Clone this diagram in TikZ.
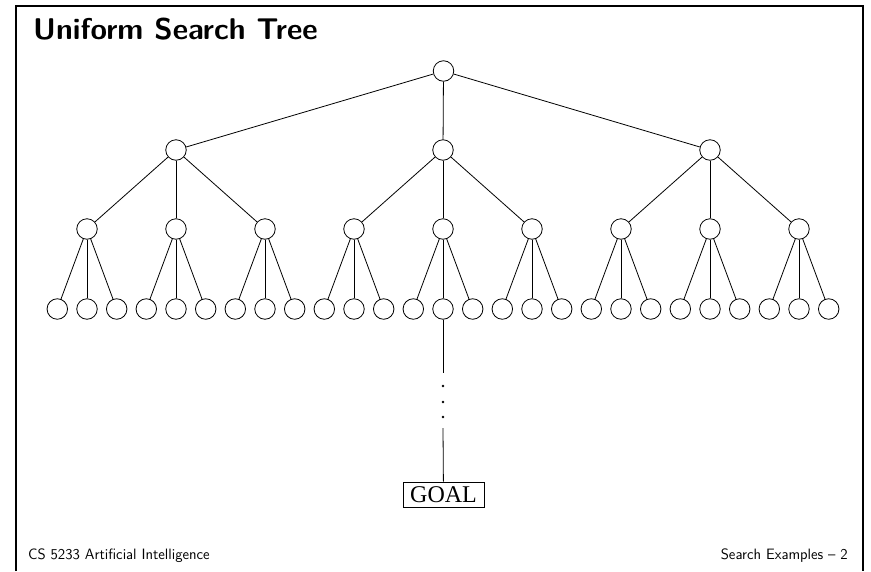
\documentclass[tikz,border=0pt]{standalone}
\usepackage{fontspec}
\newfontfamily\goalfont{Liberation Serif}
\begin{document}
\begin{tikzpicture}[x=1pt,y=-1pt,
  tn/.style={circle, draw, minimum size=20.5pt, inner sep=0pt, line width=0.8pt},
  edge/.style={line width=0.8pt},
  dotnode/.style={circle, fill, minimum size=2.6pt, inner sep=0pt},
  goalbox/.style={draw, line width=0.8pt, minimum width=81pt, minimum height=25pt, inner sep=0pt, font=\goalfont\fontsize{24}{24}\selectfont},
  foot/.style={inner sep=0pt, font=\sffamily\fontsize{15}{15}\selectfont},
  frame/.style={line width=2pt}]
\useasboundingbox (0,0) rectangle (871,571);
\draw[frame] (16,571) -- (16,6) -- (863,6) -- (863,571);
\node[anchor=base west, inner sep=0pt, font=\sffamily\bfseries\fontsize{30}{30}\selectfont] (title) at (33,39) {Uniform Search Tree};
\node[tn] (r) at (443.5,71) {};
\foreach \i in {0,1,2} {
  \node[tn] (a\i) at ({176+267*\i},150) {};
  \draw[edge] (r) -- (a\i);
}
\foreach \i in {0,...,8} {
  \pgfmathtruncatemacro\p{\i/3}
  \node[tn] (b\i) at ({87+89*\i},229) {};
  \draw[edge] (a\p) -- (b\i);
  \foreach \j in {0,1,2} {
    \node[tn] (c\i\j) at ({87+89*\i+29.7*(\j-1)},309) {};
    \draw[edge] (b\i) -- (c\i\j);
  }
}
\coordinate (d1) at (443,373);
\draw[edge] (c41) -- (d1);
\node[dotnode] (p1) at (443,386) {};
\node[dotnode] (p2) at (443,402) {};
\node[dotnode] (p3) at (443,417) {};
\coordinate (d2) at (443,428);
\node[goalbox] (g) at (443.5,494.5) {GOAL};
\draw[edge] (d2) -- (g);
\node[foot, anchor=base west] (fl) at (28,559) {CS 5233 Artificial Intelligence};
\node[foot, anchor=base east] (fr) at (848,559) {Search Examples -- 2};
\end{tikzpicture}
\end{document}
